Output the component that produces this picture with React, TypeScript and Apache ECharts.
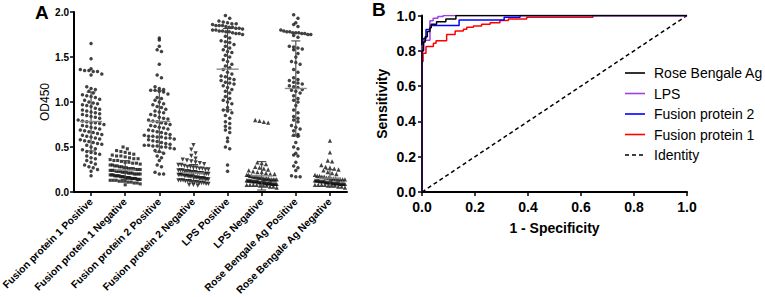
import React, { useEffect, useRef } from "react";
import * as echarts from "echarts";

// ---- Panel A: OD450 readings per group ----
const groupNames = [
  "Fusion protein 1 Positive",
  "Fusion protein 1 Negative",
  "Fusion protein 2 Positive",
  "Fusion protein 2 Negative",
  "LPS Positive",
  "LPS Negative",
  "Rose Bengale Ag Positive",
  "Rose Bengale Ag Negative",
];

const fp1Positive = [
  1.65, 1.48, 1.37, 1.36, 1.35, 1.35, 1.34, 1.34, 1.31, 1.30,
  1.17, 1.15, 1.14, 1.12, 1.10, 1.08, 1.07, 1.06, 1.05, 1.03,
  1.02, 1.00, 0.99, 0.98, 0.97, 0.96, 0.95, 0.93, 0.92, 0.91,
  0.90, 0.89, 0.88, 0.87, 0.86, 0.85, 0.84, 0.83, 0.82, 0.80,
  0.79, 0.78, 0.77, 0.77, 0.76, 0.75, 0.74, 0.73, 0.72, 0.71,
  0.70, 0.69, 0.68, 0.67, 0.66, 0.65, 0.64, 0.63, 0.62, 0.61,
  0.60, 0.59, 0.58, 0.57, 0.56, 0.55, 0.54, 0.53, 0.52, 0.50,
  0.48, 0.47, 0.45, 0.44, 0.43, 0.42, 0.40, 0.38, 0.37, 0.35,
  0.33, 0.31, 0.30, 0.28, 0.27, 0.25, 0.23, 0.18,
];
const fp1Negative = [
  0.50, 0.48, 0.46, 0.45, 0.44, 0.43, 0.42, 0.41, 0.40, 0.40,
  0.39, 0.38, 0.37, 0.37, 0.36, 0.35, 0.35, 0.34, 0.33, 0.33,
  0.32, 0.32, 0.31, 0.30, 0.30, 0.29, 0.29, 0.28, 0.28, 0.27,
  0.27, 0.26, 0.26, 0.26, 0.25, 0.25, 0.25, 0.24, 0.24, 0.24,
  0.23, 0.23, 0.23, 0.22, 0.22, 0.22, 0.21, 0.21, 0.21, 0.20,
  0.20, 0.20, 0.20, 0.19, 0.19, 0.19, 0.18, 0.18, 0.18, 0.18,
  0.17, 0.17, 0.17, 0.16, 0.16, 0.16, 0.16, 0.15, 0.15, 0.15,
  0.15, 0.14, 0.14, 0.14, 0.13, 0.13, 0.13, 0.12, 0.12, 0.12,
  0.11, 0.11, 0.10, 0.10, 0.09, 0.08,
];
const fp2Positive = [
  1.71, 1.69, 1.62, 1.58, 1.56, 1.42, 1.30, 1.27, 1.17, 1.15,
  1.14, 1.13, 1.13, 1.12, 1.11, 1.09, 1.05, 1.04, 1.02, 1.00,
  0.98, 0.97, 0.95, 0.94, 0.92, 0.90, 0.89, 0.88, 0.86, 0.85,
  0.83, 0.82, 0.81, 0.80, 0.79, 0.78, 0.77, 0.76, 0.75, 0.74,
  0.73, 0.72, 0.71, 0.70, 0.69, 0.68, 0.67, 0.66, 0.65, 0.64,
  0.63, 0.62, 0.62, 0.61, 0.61, 0.60, 0.60, 0.59, 0.58, 0.57,
  0.56, 0.55, 0.54, 0.53, 0.52, 0.52, 0.51, 0.51, 0.50, 0.50,
  0.49, 0.48, 0.46, 0.45, 0.43, 0.40, 0.38, 0.35, 0.30, 0.28,
  0.22, 0.20, 0.20,
];
const fp2Negative = [
  0.52, 0.47, 0.43, 0.40, 0.37, 0.36, 0.35, 0.34, 0.33, 0.32,
  0.31, 0.30, 0.30, 0.29, 0.28, 0.28, 0.27, 0.27, 0.26, 0.26,
  0.25, 0.25, 0.24, 0.24, 0.24, 0.23, 0.23, 0.23, 0.22, 0.22,
  0.22, 0.21, 0.21, 0.21, 0.20, 0.20, 0.20, 0.19, 0.19, 0.19,
  0.19, 0.18, 0.18, 0.18, 0.17, 0.17, 0.17, 0.17, 0.16, 0.16,
  0.16, 0.15, 0.15, 0.15, 0.15, 0.14, 0.14, 0.14, 0.13, 0.13,
  0.13, 0.12, 0.12, 0.12, 0.11, 0.11, 0.11, 0.10, 0.10, 0.10,
  0.09, 0.09, 0.08, 0.08, 0.07,
];
const lpsPositive = [
  1.96, 1.93, 1.90, 1.89, 1.88, 1.87, 1.87, 1.86, 1.85, 1.85,
  1.85, 1.84, 1.83, 1.83, 1.82, 1.82, 1.81, 1.80, 1.80, 1.79,
  1.79, 1.78, 1.78, 1.77, 1.76, 1.76, 1.75, 1.73, 1.71, 1.68,
  1.67, 1.66, 1.64, 1.62, 1.60, 1.58, 1.56, 1.55, 1.52, 1.50,
  1.47, 1.45, 1.42, 1.40, 1.38, 1.36, 1.33, 1.31, 1.29, 1.28,
  1.26, 1.25, 1.24, 1.22, 1.21, 1.20, 1.18, 1.16, 1.14, 1.12,
  1.10, 1.06, 1.04, 1.02, 1.00, 0.98, 0.94, 0.91, 0.90, 0.88,
  0.85, 0.82, 0.78, 0.76, 0.73, 0.71, 0.69, 0.66, 0.60, 0.56,
  0.50, 0.48, 0.30, 0.23,
];
const lpsNegative = [
  0.80, 0.79, 0.78, 0.77, 0.33, 0.32, 0.31, 0.28, 0.27, 0.26,
  0.25, 0.24, 0.23, 0.22, 0.22, 0.21, 0.20, 0.20, 0.19, 0.19,
  0.18, 0.18, 0.17, 0.17, 0.17, 0.16, 0.16, 0.16, 0.15, 0.15,
  0.15, 0.15, 0.14, 0.14, 0.14, 0.14, 0.14, 0.13, 0.13, 0.13,
  0.13, 0.13, 0.12, 0.12, 0.12, 0.12, 0.12, 0.12, 0.11, 0.11,
  0.11, 0.11, 0.11, 0.11, 0.10, 0.10, 0.10, 0.10, 0.10, 0.10,
  0.09, 0.09, 0.09, 0.09, 0.09, 0.08, 0.08, 0.08, 0.08, 0.07,
  0.07, 0.07, 0.06, 0.06, 0.05,
];
const rbPositive = [
  1.97, 1.93, 1.88, 1.86, 1.84, 1.80, 1.79, 1.78, 1.78, 1.77,
  1.77, 1.77, 1.76, 1.76, 1.75, 1.75, 1.74, 1.72, 1.62, 1.61,
  1.60, 1.59, 1.58, 1.54, 1.50, 1.45, 1.44, 1.42, 1.36, 1.33,
  1.27, 1.25, 1.24, 1.22, 1.21, 1.20, 1.18, 1.17, 1.16, 1.14,
  1.13, 1.12, 1.10, 1.07, 1.04, 1.02, 1.00, 0.96, 0.91, 0.88,
  0.84, 0.82, 0.80, 0.78, 0.74, 0.72, 0.70, 0.68, 0.64, 0.63,
  0.62, 0.55, 0.50, 0.48, 0.43, 0.41, 0.40, 0.33, 0.29, 0.27,
  0.24, 0.18, 0.17, 0.17,
];
const rbNegative = [
  0.57, 0.44, 0.35, 0.34, 0.30, 0.28, 0.27, 0.26, 0.25, 0.24,
  0.22, 0.21, 0.20, 0.19, 0.18, 0.18, 0.17, 0.17, 0.16, 0.16,
  0.15, 0.15, 0.15, 0.14, 0.14, 0.14, 0.14, 0.13, 0.13, 0.13,
  0.13, 0.12, 0.12, 0.12, 0.12, 0.12, 0.11, 0.11, 0.11, 0.11,
  0.11, 0.11, 0.10, 0.10, 0.10, 0.10, 0.10, 0.10, 0.09, 0.09,
  0.09, 0.09, 0.09, 0.08, 0.08, 0.08, 0.08, 0.07, 0.07, 0.07,
  0.06, 0.06, 0.05,
];

const groupValues = [
  fp1Positive, fp1Negative, fp2Positive, fp2Negative,
  lpsPositive, lpsNegative, rbPositive, rbNegative,
];
// group slots on the x axis (1-based so the y axis line stays at the left edge)
const groupPositions = [1, 2, 3, 4, 5, 6, 7, 8];
const groupSymbols = ["circle", "rect", "circle", "triangle", "circle", "triangle", "circle", "triangle"];
const groupSymbolRotate = [0, 0, 0, 180, 0, 0, 0, 0];
const odTicks = [0, 0.5, 1.0, 1.5, 2.0];

// ---- Panel B: ROC curves, [1 - specificity, sensitivity] ----
const rocFusion1 = [
  [0, 0], [0, 0.74], [0.004, 0.786], [0.015, 0.824], [0.043, 0.843],
  [0.053, 0.857], [0.093, 0.893], [0.125, 0.912], [0.156, 0.922],
  [0.169, 0.933], [0.194, 0.941], [0.225, 0.95], [0.257, 0.959],
  [0.294, 0.971], [0.326, 0.98], [0.395, 0.99], [0.645, 1.0], [1, 1],
];
const rocFusion2 = [
  [0, 0], [0, 0.8], [0.006, 0.87], [0.015, 0.92], [0.03, 0.944],
  [0.14, 0.975], [0.31, 0.99], [0.37, 1.0], [1, 1],
];
const rocLps = [
  [0, 0], [0, 0.83], [0.006, 0.86], [0.03, 0.97], [0.042, 0.985],
  [0.06, 0.995], [0.08, 1.0], [1, 1],
];
const rocRoseBengal = [
  [0, 0], [0, 0.8], [0.005, 0.85], [0.012, 0.88], [0.02, 0.91],
  [0.03, 0.93], [0.035, 0.95], [0.055, 0.965], [0.09, 0.98],
  [0.128, 1.0], [1, 1],
];
const rocIdentity = [[0, 0], [1, 1]];

const legendNames = ["Rose Bengale Ag", "LPS", "Fusion protein 2", "Fusion protein 1", "Identity"];
const legendColors = ["#000000", "#A040E6", "#0000FF", "#FF0000", "#000000"];

const FONT = 'Arial, "Liberation Sans", Helvetica, sans-serif';
const CAT_PX = 273 / 8; // width of one group band in pixels
const OD_PX = 90; // pixels per OD unit
const BIN_PX = 5;
const SPACING_PX = 4.3;
const MAX_ROW_PX = 30;

// Lay points of one group out side by side in rows (column scatter / swarm)
function swarm(values: number[], pos: number): number[][] {
  const sorted = [...values].sort((a, b) => b - a);
  const bins = new Map<number, number[]>();
  const binSize = BIN_PX / OD_PX;
  for (const v of sorted) {
    const k = Math.round(v / binSize);
    if (!bins.has(k)) bins.set(k, []);
    bins.get(k)!.push(v);
  }
  const out: number[][] = [];
  bins.forEach((list) => {
    const n = list.length;
    const step = n > 1 ? Math.min(SPACING_PX, MAX_ROW_PX / (n - 1)) : 0;
    list.forEach((v, i) => out.push([pos + ((i - (n - 1) / 2) * step) / CAT_PX, v]));
  });
  return out;
}

function meanSd(values: number[]): [number, number] {
  const n = values.length;
  const m = values.reduce((a, b) => a + b, 0) / n;
  const s = Math.sqrt(values.reduce((a, b) => a + (b - m) * (b - m), 0) / (n - 1));
  return [m, s];
}

export default function App() {
  const ref = useRef<HTMLDivElement>(null);

  useEffect(() => {
    if (!ref.current) return;
    const chart = echarts.init(ref.current, null, { renderer: "svg", width: 765, height: 297 });

    const scatterSeries = groupValues.map((vals, i) => ({
      type: "scatter",
      xAxisIndex: 0,
      yAxisIndex: 0,
      symbol: groupSymbols[i],
      symbolRotate: groupSymbolRotate[i],
      symbolSize: groupSymbols[i] === "circle" ? 3.5 : groupSymbols[i] === "rect" ? 3.1 : 4.3,
      itemStyle: { color: "#111" },
      data: swarm(vals, groupPositions[i]),
      silent: true,
      z: 2,
    }));

    const statsData = groupValues.map((vals, i) => {
      const [m, s] = meanSd(vals);
      return [groupPositions[i], m, s];
    });

    const statsSeries = {
      type: "custom",
      xAxisIndex: 0,
      yAxisIndex: 0,
      z: 5,
      silent: true,
      data: statsData,
      renderItem: (_params: any, api: any) => {
        const c = api.value(0);
        const m = api.value(1);
        const s = api.value(2);
        const pm = api.coord([c, m]);
        const pt = api.coord([c, m + s]);
        const pb = api.coord([c, Math.max(m - s, 0)]);
        return {
          type: "group",
          children: [
            { type: "line", shape: { x1: pt[0], y1: pt[1], x2: pb[0], y2: pb[1] }, style: { stroke: "#444", lineWidth: 1.1 } },
            { type: "line", shape: { x1: pt[0] - 4.5, y1: pt[1], x2: pt[0] + 4.5, y2: pt[1] }, style: { stroke: "#444", lineWidth: 1.1 } },
            { type: "line", shape: { x1: pb[0] - 4.5, y1: pb[1], x2: pb[0] + 4.5, y2: pb[1] }, style: { stroke: "#444", lineWidth: 1.1 } },
            { type: "line", shape: { x1: pm[0] - 11, y1: pm[1], x2: pm[0] + 11, y2: pm[1] }, style: { stroke: "#888", lineWidth: 1.4 } },
          ],
        };
      },
    };

    const rocLine = (name: string, data: number[][], color: string, dashed = false, z = 3) => ({
      type: "line",
      name,
      xAxisIndex: 1,
      yAxisIndex: 1,
      data,
      step: dashed ? undefined : "end",
      showSymbol: false,
      symbol: "none",
      silent: true,
      z,
      lineStyle: { color, width: 1.5, type: dashed ? [4, 3] : "solid" },
    });

    const legendGraphics: any[] = [];
    legendNames.forEach((name, i) => {
      const y = 73 + i * 20.5;
      legendGraphics.push({
        type: "line",
        shape: { x1: 625, y1: y, x2: 645, y2: y },
        style: { stroke: legendColors[i], lineWidth: 1.6, lineDash: name === "Identity" ? [4, 3] : null },
      });
      legendGraphics.push({
        type: "text",
        x: 654,
        y,
        style: { text: name, fontSize: 14, fontFamily: FONT, fill: "#000", verticalAlign: "middle" },
      });
    });

    const mkLine = () => ({ show: true, onZero: false, lineStyle: { color: "#000", width: 2 } });
    const mkTick = () => ({ show: true, length: 4, lineStyle: { color: "#000", width: 1.5 } });

    chart.setOption({
      animation: false,
      backgroundColor: "#fff",
      textStyle: { fontFamily: FONT },
      grid: [
        { left: 74, top: 12, width: 273, height: 180, containLabel: false, outerBoundsMode: "none" },
        { left: 422, top: 15.5, width: 265, height: 176.5, containLabel: false, outerBoundsMode: "none" },
      ],
      xAxis: [
        {
          gridIndex: 0,
          type: "value",
          position: "bottom",
          min: 0.5,
          max: 8.5,
          axisLine: mkLine(),
          axisTick: { ...mkTick(), customValues: groupPositions },
          axisLabel: {
            customValues: groupPositions,
            rotate: 45,
            fontSize: 10.3,
            fontWeight: "bold",
            color: "#000",
            margin: 8,
            fontFamily: FONT,
            formatter: (v: number) => groupNames[Math.round(v) - 1] ?? "",
          },
          splitLine: { show: false },
        },
        {
          gridIndex: 1,
          type: "value",
          position: "bottom",
          min: 0,
          max: 1,
          interval: 0.2,
          axisLine: mkLine(),
          axisTick: mkTick(),
          splitLine: { show: false },
          axisLabel: { fontSize: 14, fontWeight: "bold", color: "#000", margin: 8, fontFamily: FONT, formatter: (v: number) => v.toFixed(1) },
          name: "1 - Specificity",
          nameLocation: "middle",
          nameGap: 29,
          nameTextStyle: { fontSize: 14, fontWeight: "bold", color: "#000", fontFamily: FONT },
        },
      ],
      yAxis: [
        {
          gridIndex: 0,
          type: "value",
          position: "left",
          min: odTicks[0],
          max: odTicks[odTicks.length - 1],
          interval: 0.5,
          axisLine: mkLine(),
          axisTick: mkTick(),
          splitLine: { show: false },
          axisLabel: { fontSize: 10, fontWeight: "bold", color: "#000", margin: 5, fontFamily: FONT, formatter: (v: number) => v.toFixed(1) },
          name: "OD450",
          nameLocation: "middle",
          nameGap: 20,
          nameTextStyle: { fontSize: 12, color: "#000", fontFamily: FONT },
        },
        {
          gridIndex: 1,
          type: "value",
          position: "left",
          min: 0,
          max: 1,
          interval: 0.2,
          axisLine: mkLine(),
          axisTick: mkTick(),
          splitLine: { show: false },
          axisLabel: { fontSize: 14, fontWeight: "bold", color: "#000", margin: 6, fontFamily: FONT, formatter: (v: number) => v.toFixed(1) },
          name: "Sensitivity",
          nameLocation: "middle",
          nameGap: 33,
          nameTextStyle: { fontSize: 14, fontWeight: "bold", color: "#000", fontFamily: FONT },
        },
      ],
      series: [
        ...scatterSeries,
        statsSeries,
        rocLine("Identity", rocIdentity, "#000", true, 2),
        rocLine("Fusion protein 1", rocFusion1, legendColors[3], false, 3),
        rocLine("Fusion protein 2", rocFusion2, legendColors[2], false, 4),
        rocLine("LPS", rocLps, legendColors[1], false, 5),
        rocLine("Rose Bengale Ag", rocRoseBengal, legendColors[0], false, 6),
      ],
      graphic: [
        { type: "text", x: 35, y: 3, style: { text: "A", fontSize: 19, fontWeight: "bold", fontFamily: FONT, fill: "#000" } },
        { type: "text", x: 372, y: 0, style: { text: "B", fontSize: 19, fontWeight: "bold", fontFamily: FONT, fill: "#000" } },
        ...legendGraphics,
      ],
    });

    return () => chart.dispose();
  }, []);

  return (
    <div
      ref={ref}
      style={{ position: "fixed", left: 0, top: 0, width: 765, height: 297, background: "#fff" }}
    />
  );
}
